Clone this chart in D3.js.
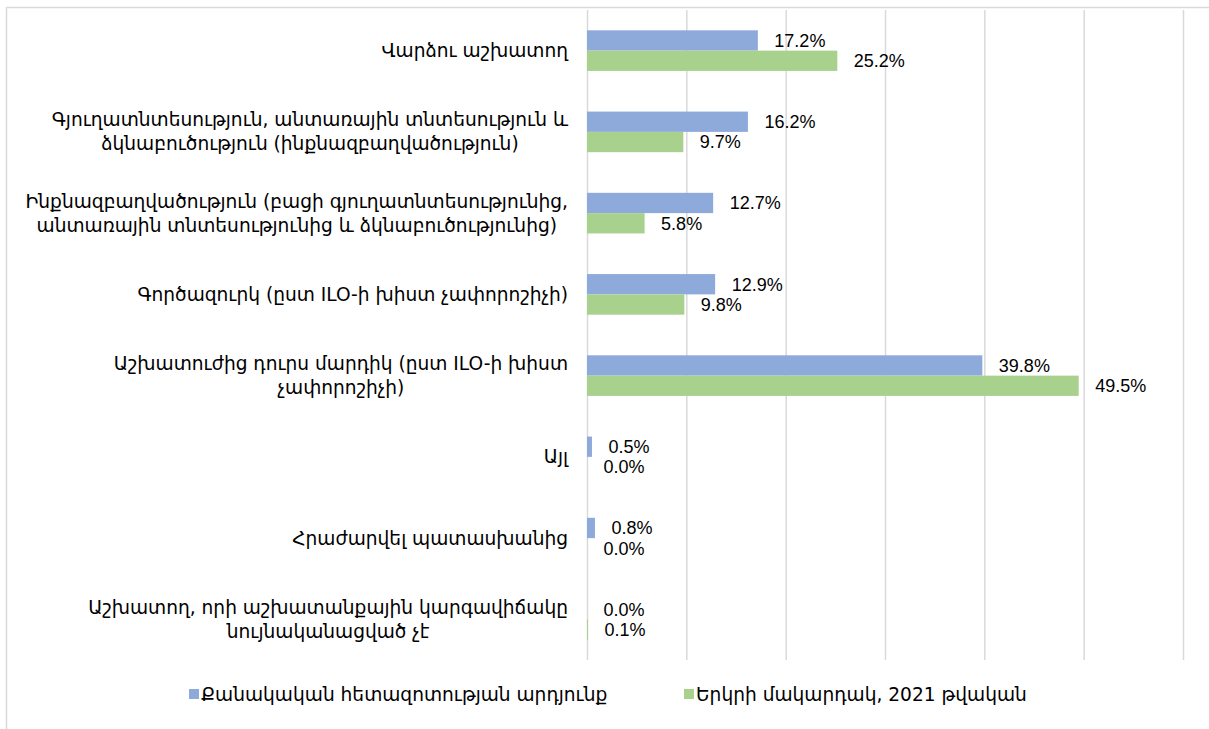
<!DOCTYPE html>
<html lang="hy">

<head>
  <meta charset="UTF-8">
  <title>Employment status chart</title>
  <script src="https://d3js.org/d3.v7.min.js"></script>
  <style>
    body { margin: 0; background: #fff; }
    .cat-label { font-family: "DejaVu Sans", sans-serif; font-size: 18.6px; fill: #000; }
    .val-label { font-family: "Liberation Sans", Arial, sans-serif; font-size: 18px; fill: #000; }
    .legend-text { font-family: "DejaVu Sans", sans-serif; font-size: 18.6px; fill: #000; }
  </style>
</head>

<body>
  <div id="chart"></div>

  <script>
    // categories (each row is the wrapped lines of a label)
    const categories = [
      ["Վարձու աշխատող"],
      ["Գյուղատնտեսություն, անտառային տնտեսություն և", "ձկնաբուծություն (ինքնազբաղվածություն)"],
      ["Ինքնազբաղվածություն (բացի գյուղատնտեսությունից,", "անտառային տնտեսությունից և ձկնաբուծությունից)"],
      ["Գործազուրկ  (ըստ ILO-ի խիստ չափորոշիչի)"],
      ["Աշխատուժից դուրս մարդիկ (ըստ ILO-ի խիստ", "չափորոշիչի)"],
      ["Այլ"],
      ["Հրաժարվել պատասխանից"],
      ["Աշխատող, որի աշխատանքային կարգավիճակը", "նույնականացված չէ"]
    ];
    const seriesNames = ["Քանակական հետազոտության արդյունք", "Երկրի մակարդակ, 2021 թվական"];
    const surveyValues = [17.2, 16.2, 12.7, 12.9, 39.8, 0.5, 0.8, 0.0];
    const countryValues = [25.2, 9.7, 5.8, 9.8, 49.5, 0.0, 0.0, 0.1];
    const xTicks = [0, 10, 20, 30, 40, 50, 60];
    const colors = ["#8eaadb", "#a9d18e"];

    const W = 1209, H = 729;
    const plot = { left: 587, right: 1183, top: 10, bottom: 660 };

    const svg = d3.select("#chart").append("svg")
      .attr("width", W)
      .attr("height", H);

    // chart border (only left/top visible in reference)
    svg.append("rect")
      .attr("x", 6.5).attr("y", 7.5)
      .attr("width", W + 20).attr("height", H + 20)
      .attr("fill", "none")
      .attr("stroke", "#d9d9d9")
      .attr("stroke-width", 1.5);

    const catIdx = d3.range(categories.length);

    const x = d3.scaleLinear()
      .domain([0, 60])
      .range([plot.left, plot.right]);

    const y = d3.scaleBand()
      .domain(catIdx)
      .range([plot.top, plot.bottom])
      .paddingInner(0.5)
      .paddingOuter(0.25);

    const ySub = d3.scaleBand()
      .domain([0, 1])
      .range([0, y.bandwidth()]);

    // gridlines
    const grid = svg.append("g")
      .attr("transform", `translate(0, ${plot.bottom})`)
      .call(d3.axisBottom(x).tickValues(xTicks).tickSize(-(plot.bottom - plot.top)).tickFormat(""));
    grid.select(".domain").remove();
    grid.selectAll(".tick line")
      .attr("stroke", "#d9d9d9")
      .attr("stroke-width", 1.5);

    const rows = catIdx.map(i => ({ i, vals: [surveyValues[i], countryValues[i]] }));

    const groups = svg.selectAll("g.row")
      .data(rows)
      .enter().append("g")
      .attr("class", "row")
      .attr("transform", d => `translate(0, ${y(d.i)})`);

    // bars
    groups.selectAll("rect")
      .data(d => d.vals.map((v, s) => ({ v, s })))
      .enter().append("rect")
      .attr("x", x(0))
      .attr("y", d => ySub(d.s))
      .attr("width", d => x(d.v) - x(0))
      .attr("height", ySub.bandwidth())
      .attr("fill", d => colors[d.s]);

    // value labels
    groups.selectAll("text.val-label")
      .data(d => d.vals.map((v, s) => ({ v, s })))
      .enter().append("text")
      .attr("class", "val-label")
      .attr("x", d => x(d.v) + 16.5)
      .attr("y", d => ySub(d.s) + ySub.bandwidth() / 2)
      .attr("dy", "0.35em")
      .text(d => d.v.toFixed(1) + "%");

    // category labels: block right-aligned, lines centred within block
    const lineH = 24;
    groups.each(function (d) {
      const g = d3.select(this);
      const lines = categories[d.i];
      const t = g.append("text")
        .attr("class", "cat-label")
        .attr("text-anchor", "middle");
      lines.forEach((ln, k) => {
        t.append("tspan")
          .attr("x", 0)
          .attr("y", y.bandwidth() / 2 + (k - (lines.length - 1) / 2) * lineH)
          .attr("dy", "0.35em")
          .text(ln);
      });
      const w = d3.max(t.selectAll("tspan").nodes(), n => n.getComputedTextLength());
      t.selectAll("tspan").attr("x", 568 - w / 2);
    });

    // legend
    const legendItems = [
      { name: seriesNames[0], color: colors[0], x: 189 },
      { name: seriesNames[1], color: colors[1], x: 684 }
    ];
    const legend = svg.selectAll("g.legend")
      .data(legendItems)
      .enter().append("g")
      .attr("class", "legend")
      .attr("transform", d => `translate(${d.x}, 694)`);
    legend.append("rect")
      .attr("x", 0).attr("y", -5)
      .attr("width", 10).attr("height", 10)
      .attr("fill", d => d.color);
    legend.append("text")
      .attr("class", "legend-text")
      .attr("x", 12)
      .attr("dy", "0.35em")
      .text(d => d.name);
  </script>
</body>

</html>
